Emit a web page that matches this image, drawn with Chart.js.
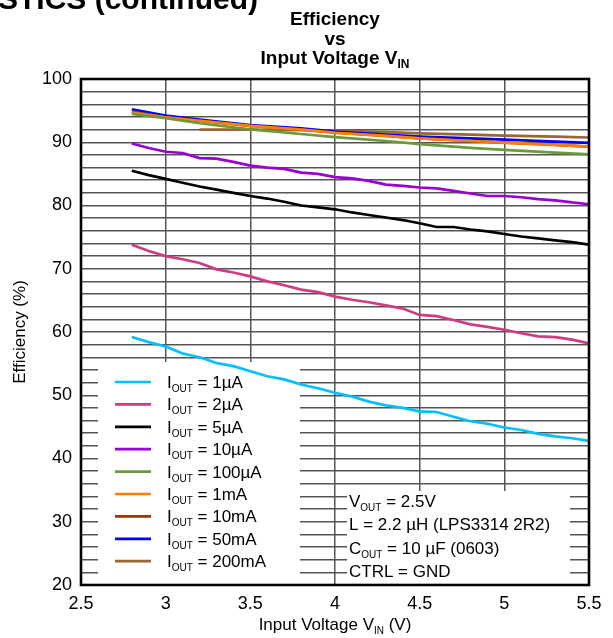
<!DOCTYPE html>
<html><head><meta charset="utf-8">
<script src="https://cdn.jsdelivr.net/npm/chart.js@4.4.1/dist/chart.umd.min.js"></script>
<style>html,body{margin:0;padding:0;background:#fff;}#wrap{width:613px;height:638px;position:relative;overflow:hidden;}canvas{display:block;}</style>
</head><body><div id="wrap"><canvas id="c" width="613" height="638"></canvas></div>
<script>
// ---- data ----
const currents = ['1\u00B5A','2\u00B5A','5\u00B5A','10\u00B5A','100\u00B5A','1mA','10mA','50mA','200mA'];
const vinFine = [2.8,2.9,3.0,3.1,3.2,3.3,3.4,3.5,3.6,3.7,3.8,3.9,4.0,4.1,4.2,4.3,4.4,4.5,4.6,4.7,4.8,4.9,5.0,5.1,5.2,5.3,5.4,5.5];
const eff1uA  = [59.2,58.4,57.7,56.6,56.0,55.1,54.6,53.8,53.0,52.5,51.7,51.1,50.4,49.8,49.0,48.4,48.0,47.45,47.35,46.6,45.9,45.5,44.9,44.5,43.9,43.5,43.2,42.8];
const eff2uA  = [73.8,72.8,72.0,71.5,70.9,69.9,69.4,68.8,68.0,67.4,66.7,66.3,65.6,65.1,64.7,64.2,63.7,62.7,62.5,61.9,61.2,60.8,60.35,59.8,59.3,59.2,58.8,58.2];
const eff5uA  = [85.5,84.8,84.2,83.6,83.0,82.5,82.0,81.5,81.1,80.6,80.0,79.7,79.4,78.9,78.5,78.1,77.7,77.2,76.6,76.6,76.2,75.9,75.5,75.1,74.8,74.5,74.2,73.8];
const eff10uA = [89.8,89.1,88.5,88.3,87.5,87.4,86.9,86.3,86.0,85.8,85.2,85.0,84.5,84.3,83.9,83.3,83.1,82.85,82.7,82.3,81.9,81.5,81.5,81.3,81.0,80.8,80.5,80.2];
const vinCoarse = [2.8,3.0,3.2,3.5,3.8,4.0,4.3,4.5,4.8,5.0,5.3,5.5];
const eff100uA = [94.5,93.8,93.0,92.05,91.3,90.8,90.2,89.7,89.1,88.8,88.35,88.1];
const eff1mA   = [94.7,93.92,93.4,92.6,92.0,91.5,91.0,90.6,90.2,89.95,89.6,89.3];
const eff10mA  = [94.85,93.95,93.4,92.6,92.0,91.5,91.0,90.6,90.2,89.95,89.6,89.3];
const eff50mA  = [95.2,94.2,93.6,92.7,92.2,91.7,91.2,90.9,90.6,90.4,90.1,89.9];
const vin200   = [3.2,3.5,3.8,4.0,4.3,4.5,4.8,5.0,5.3,5.5];
const eff200mA = [92.0,92.0,91.9,91.85,91.6,91.4,91.2,91.05,90.9,90.75];
const xTicks = [2.5,3,3.5,4,4.5,5,5.5];
const yLabelTicks = [20,30,40,50,60,70,80,90,100];
const noteLines = [
  [['V',0],['OUT',1],[' = 2.5V',0]],
  [['L = 2.2 \u00B5H (LPS3314 2R2)',0]],
  [['C',0],['OUT',1],[' = 10 \u00B5F (0603)',0]],
  [['CTRL = GND',0]]
];

// ---- styles ----
const colors = ['#00bfff','#d03c80','#000000','#9b00d3','#6a9a3a','#ff8000','#a33000','#0000ff','#9a6633'];
const FONT = '"Liberation Sans", Arial, sans-serif';
const series = [
  [vinFine,eff1uA],[vinFine,eff2uA],[vinFine,eff5uA],[vinFine,eff10uA],
  [vinCoarse,eff100uA],[vinCoarse,eff1mA],[vinCoarse,eff10mA],[vinCoarse,eff50mA],[vin200,eff200mA]
];
const datasets = series.map((s,i)=>({
  label:'IOUT = '+currents[i],
  data:s[0].map((x,j)=>({x:x,y:s[1][j]})),
  borderColor:colors[i], backgroundColor:colors[i],
  borderWidth:2.7, pointRadius:0, tension:0, fill:false
}));

function drawParts(ctx, x, y, parts, size, subSize, bold){
  let cx = x;
  for(const [t,sub] of parts){
    ctx.font = (bold?'bold ':'') + (sub?subSize:size)+'px '+FONT;
    ctx.fillText(t, cx, sub ? y+4 : y);
    cx += ctx.measureText(t).width;
  }
  return cx - x;
}
function partsWidth(ctx, parts, size, subSize, bold){
  let w=0;
  for(const [t,sub] of parts){ ctx.font=(bold?'bold ':'')+(sub?subSize:size)+'px '+FONT; w+=ctx.measureText(t).width; }
  return w;
}

const deco = {
  id:'deco',
  beforeDatasetsDraw(chart){
    const {ctx, scales:{x,y}} = chart;
    ctx.save();
    ctx.fillStyle='#fff';
    ctx.fillRect(98, 362, 300-98, y.getPixelForValue(20)-362);
    ctx.fillRect(347, 491, 570-347, y.getPixelForValue(20)-491);
    ctx.restore();
  },
  afterDatasetsDraw(chart){
    const {ctx, chartArea:a} = chart;
    ctx.save();
    ctx.strokeStyle='#000'; ctx.lineWidth=2.6;
    ctx.strokeRect(a.left, a.top, a.right-a.left, a.bottom-a.top);
    ctx.restore();
  },
  afterDraw(chart){
    const {ctx, chartArea:a} = chart;
    ctx.save();
    ctx.fillStyle='#000'; ctx.textBaseline='alphabetic';
    // partial header at top (cut off by page edge)
    ctx.font='bold 30px '+FONT; ctx.textAlign='right';
    ctx.fillText('TYPICAL CHARACTERISTICS (continued)', 258, 9);
    ctx.textAlign='left';
    // title
    const cx = (a.left+a.right)/2;
    const t1=[['Efficiency',0]], t2=[['vs',0]], t3=[['Input Voltage V',0],['IN',1]];
    [[t1,25],[t2,45],[t3,64]].forEach(([p,by])=>{
      const w = partsWidth(ctx,p,19,12,true);
      drawParts(ctx, cx-w/2, by, p, 19, 12, true);
    });
    // x axis title
    const xt=[['Input Voltage V',0],['IN',1],[' (V)',0]];
    const xw = partsWidth(ctx,xt,17,10,false);
    drawParts(ctx, cx-xw/2, 630, xt, 17, 10, false);
    // y axis title
    ctx.save();
    ctx.translate(25, (a.top+a.bottom)/2);
    ctx.rotate(-Math.PI/2);
    ctx.font='17px '+FONT; ctx.textAlign='center';
    ctx.fillText('Efficiency (%)', 0, 0);
    ctx.restore();
    // legend
    chart.data.datasets.forEach((ds,i)=>{
      const base = 388 + i*22.4;
      ctx.strokeStyle=ds.borderColor; ctx.lineWidth=2.7;
      ctx.beginPath(); ctx.moveTo(115, base-6); ctx.lineTo(151, base-6); ctx.stroke();
      ctx.fillStyle='#000';
      drawParts(ctx, 167, base, [['I',0],['OUT',1],[' = '+currents[i],0]], 17, 10, false);
    });
    // notes
    noteLines.forEach((p,i)=>{
      drawParts(ctx, 349, 507 + i*23.3, p, 17, 10, false);
    });
    ctx.restore();
  }
};

new Chart(document.getElementById('c').getContext('2d'), {
  type:'line',
  data:{datasets},
  options:{
    responsive:false, animation:false, devicePixelRatio:1,
    layout:{padding:{top:79,right:24,left:0,bottom:0}},
    plugins:{legend:{display:false}, title:{display:false}, tooltip:{enabled:false}},
    scales:{
      x:{type:'linear', min:2.5, max:5.5,
        afterBuildTicks(s){ s.ticks = xTicks.map(v=>({value:v})); },
        ticks:{color:'#000', font:{family:FONT,size:18}, padding:8, maxRotation:0, autoSkip:false,
          callback:v=>String(v)},
        grid:{color:'#555555', lineWidth:1.5, drawTicks:false},
        border:{display:false},
        afterFit(s){ s.height=53; }
      },
      y:{min:20, max:100,
        ticks:{stepSize:2, autoSkip:false, color:'#000', font:{family:FONT,size:18}, padding:9,
          callback:v=> yLabelTicks.includes(v) ? String(v) : ''},
        grid:{color:'#555555', lineWidth:1.5, drawTicks:false},
        border:{display:false},
        afterFit(s){ s.width=81; }
      }
    }
  },
  plugins:[deco]
});
</script></body></html>
